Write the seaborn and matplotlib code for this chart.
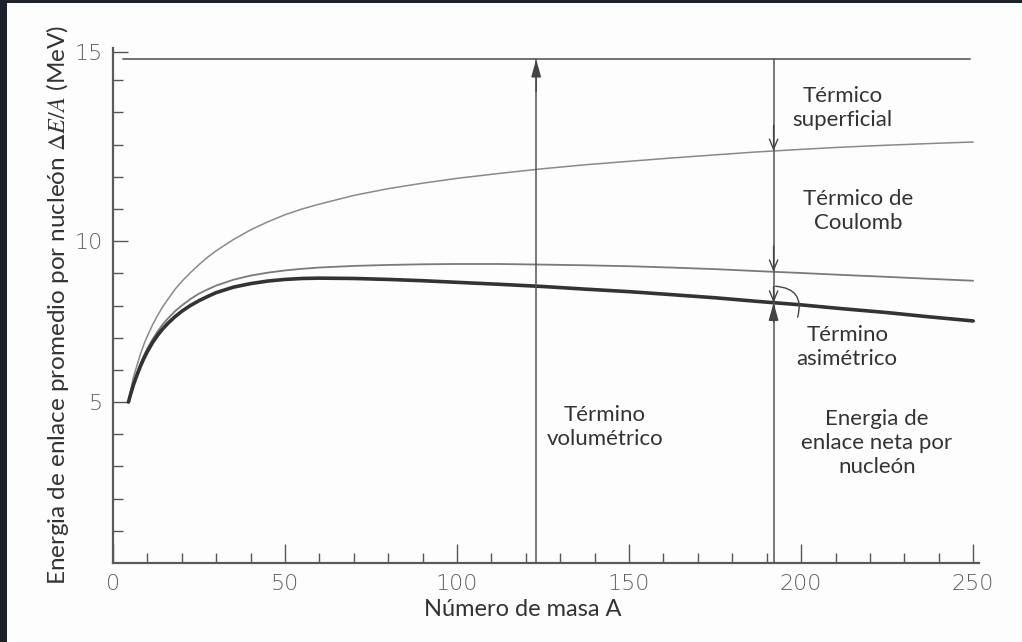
import numpy as np
import pandas as pd
import matplotlib
matplotlib.use("Agg")
import matplotlib.pyplot as plt
import seaborn as sns
from matplotlib.patches import Rectangle

# ---- data ----
mass_A = [4.5, 5, 5.5, 6, 7, 8, 9, 10, 11.5, 13, 14.5, 16, 18, 20, 22.5, 25, 27.5, 30, 35, 40,
          45, 50, 55, 60, 70, 80, 90, 100, 112, 125, 137, 150, 162, 175, 187, 200, 212, 225, 237, 250]
minus_surface = [5.0, 5.3, 5.55, 5.8, 6.15, 6.5, 6.8, 7.05, 7.4, 7.7, 7.97, 8.2, 8.5, 8.75, 9.02,
                 9.27, 9.5, 9.7, 10.05, 10.35, 10.6, 10.82, 11.0, 11.15, 11.42, 11.63, 11.8, 11.95,
                 12.1, 12.25, 12.37, 12.48, 12.58, 12.68, 12.77, 12.85, 12.92, 12.98, 13.03, 13.08]
minus_coulomb = [5.0, 5.22, 5.42, 5.6, 5.92, 6.2, 6.45, 6.67, 6.95, 7.2, 7.42, 7.6, 7.82, 8.0, 8.2,
                 8.37, 8.5, 8.62, 8.8, 8.93, 9.02, 9.09, 9.14, 9.18, 9.23, 9.26, 9.28, 9.29,
                 9.29, 9.27, 9.25, 9.22, 9.18, 9.13, 9.07, 9.01, 8.95, 8.89, 8.83, 8.77]
net_binding = [5.0, 5.2, 5.38, 5.55, 5.85, 6.12, 6.36, 6.57, 6.85, 7.08, 7.28, 7.45, 7.65, 7.82, 8.0,
               8.15, 8.28, 8.4, 8.57, 8.68, 8.76, 8.81, 8.84, 8.85, 8.84, 8.81, 8.77, 8.72,
               8.66, 8.59, 8.51, 8.43, 8.34, 8.24, 8.13, 8.02, 7.9, 7.78, 7.65, 7.52]
volume_A = [3, 249]
volume_E = [15.65, 15.65]
arrow_A = [123, 192]

x_major = [0, 50, 100, 150, 200, 250]
x_minor = [a for a in range(10, 250, 10) if a % 50]
y_major = [5, 10, 15.87]
y_major_labels = ["5", "10", "15"]
y_minor = [1, 2, 3, 4, 6, 7, 8, 9, 11, 12, 13, 14, 15]

sns.set_theme(style="white")
plt.rcParams["font.family"] = ["Lato", "DejaVu Sans"]
plt.rcParams["mathtext.fontset"] = "stix"

fig = plt.figure(figsize=(10.22, 6.42), dpi=100)
fig.patch.set_facecolor("#1c212b")
fig.patches.append(Rectangle((7 / 1022, 0), 1 - 7 / 1022, 1 - 3 / 642, transform=fig.transFigure,
                             facecolor="#fdfdfd", edgecolor="none", zorder=-10))
ax = fig.add_axes([113 / 1022, 79 / 642, 866 / 1022, 515 / 642])
ax.set_zorder(5)
ax.set_facecolor("none")

df = pd.DataFrame({"A": mass_A, "s": minus_surface, "c": minus_coulomb, "n": net_binding})
sns.lineplot(data=df, x="A", y="s", ax=ax, color="#8a8a8a", lw=1.1)
sns.lineplot(data=df, x="A", y="c", ax=ax, color="#7a7a7a", lw=1.3)
sns.lineplot(data=df, x="A", y="n", ax=ax, color="#333333", lw=2.6)
sns.lineplot(x=volume_A, y=volume_E, ax=ax, color="#666666", lw=1.3)

ax.set_xlim(0, 251.7)
ax.set_ylim(0, 16.0)
ax.set_xlabel("")
ax.set_ylabel("")

for s in ["top", "right"]:
    ax.spines[s].set_visible(False)
for s in ["left", "bottom"]:
    ax.spines[s].set_color("#5a5a5a")
    ax.spines[s].set_linewidth(1.6)

ax.set_xticks(x_major)
ax.set_xticklabels([str(v) for v in x_major])
ax.set_xticks(x_minor, minor=True)
ax.set_yticks(y_major)
ax.set_yticklabels(y_major_labels)
ax.set_yticks(y_minor, minor=True)
ax.tick_params(which="both", bottom=True, left=True, top=False, right=False)
ax.tick_params(axis="x", which="major", direction="in", length=13.5, width=1.0, color="#555555",
               pad=8, labelsize=16, labelcolor="#5e5e5e")
ax.tick_params(axis="x", which="minor", direction="in", length=7, width=1.0, color="#555555")
ax.tick_params(axis="y", which="major", direction="in", length=10.5, width=1.0, color="#555555",
               pad=7, labelsize=16, labelcolor="#5e5e5e")
ax.tick_params(axis="y", which="minor", direction="in", length=7, width=1.0, color="#555555")
for lab in ax.get_xticklabels() + ax.get_yticklabels():
    lab.set_family(["DejaVu Sans"])
    lab.set_fontweight("light")

# vertical lines with arrows
vol = volume_E[0]
a1, a2 = arrow_A
ax.plot([a1, a1], [0, vol], color="#555555", lw=1.1)
ax.plot([a2, a2], [0, vol], color="#555555", lw=1.1)
s2 = np.interp(a2, mass_A, minus_surface)
c2 = np.interp(a2, mass_A, minus_coulomb)
n2 = np.interp(a2, mass_A, net_binding)
head = dict(arrowstyle="-|>,head_length=0.9,head_width=0.25", color="#444444", lw=1.0,
            shrinkA=0, shrinkB=0)
vhead = dict(arrowstyle="->,head_length=0.6,head_width=0.25", color="#444444", lw=1.0,
             shrinkA=0, shrinkB=0)
ax.annotate("", xy=(a1, vol), xytext=(a1, vol - 1.0), arrowprops=head)
ax.annotate("", xy=(a2, s2), xytext=(a2, s2 + 0.8), arrowprops=vhead)
ax.annotate("", xy=(a2, c2), xytext=(a2, c2 + 0.8), arrowprops=vhead)
ax.annotate("", xy=(a2, n2), xytext=(a2, n2 + 0.5), arrowprops=vhead)
ax.annotate("", xy=(a2, n2), xytext=(a2, n2 - 0.6), arrowprops=head)
ax.annotate("", xy=(a2 + 7, n2 - 0.45), xytext=(a2 + 0.6, c2 - 0.45),
            arrowprops=dict(arrowstyle="-", color="#444444", lw=1.0,
                            connectionstyle="arc3,rad=-0.6", shrinkA=0, shrinkB=0))

tk = dict(fontsize=16, color="#333333", ha="center", va="center", linespacing=1.25)
ax.text(212, 14.13, "Térmico\nsuperficial", **tk)
ax.text(216.6, 10.93, "Térmico de\nCoulomb", **tk)
ax.text(213.4, 6.71, "Término\nasimétrico", **tk)
ax.text(222, 3.73, "Energia de\nenlace neta por\nnucleón", **tk)
ax.text(143, 4.22, "Término\nvolumétrico", **tk)

fig.text(523 / 1022, 1 - 610 / 642, "Número de masa A", fontsize=17, color="#333333",
         ha="center", va="center")
fig.text(58 / 1022, 1 - 305 / 642, r"Energia de enlace promedio por nucleón $\Delta E/A$ (MeV)",
         fontsize=17.5, color="#333333", ha="center", va="center", rotation=90)

fig.savefig("out.png", dpi=100, facecolor=fig.get_facecolor())
